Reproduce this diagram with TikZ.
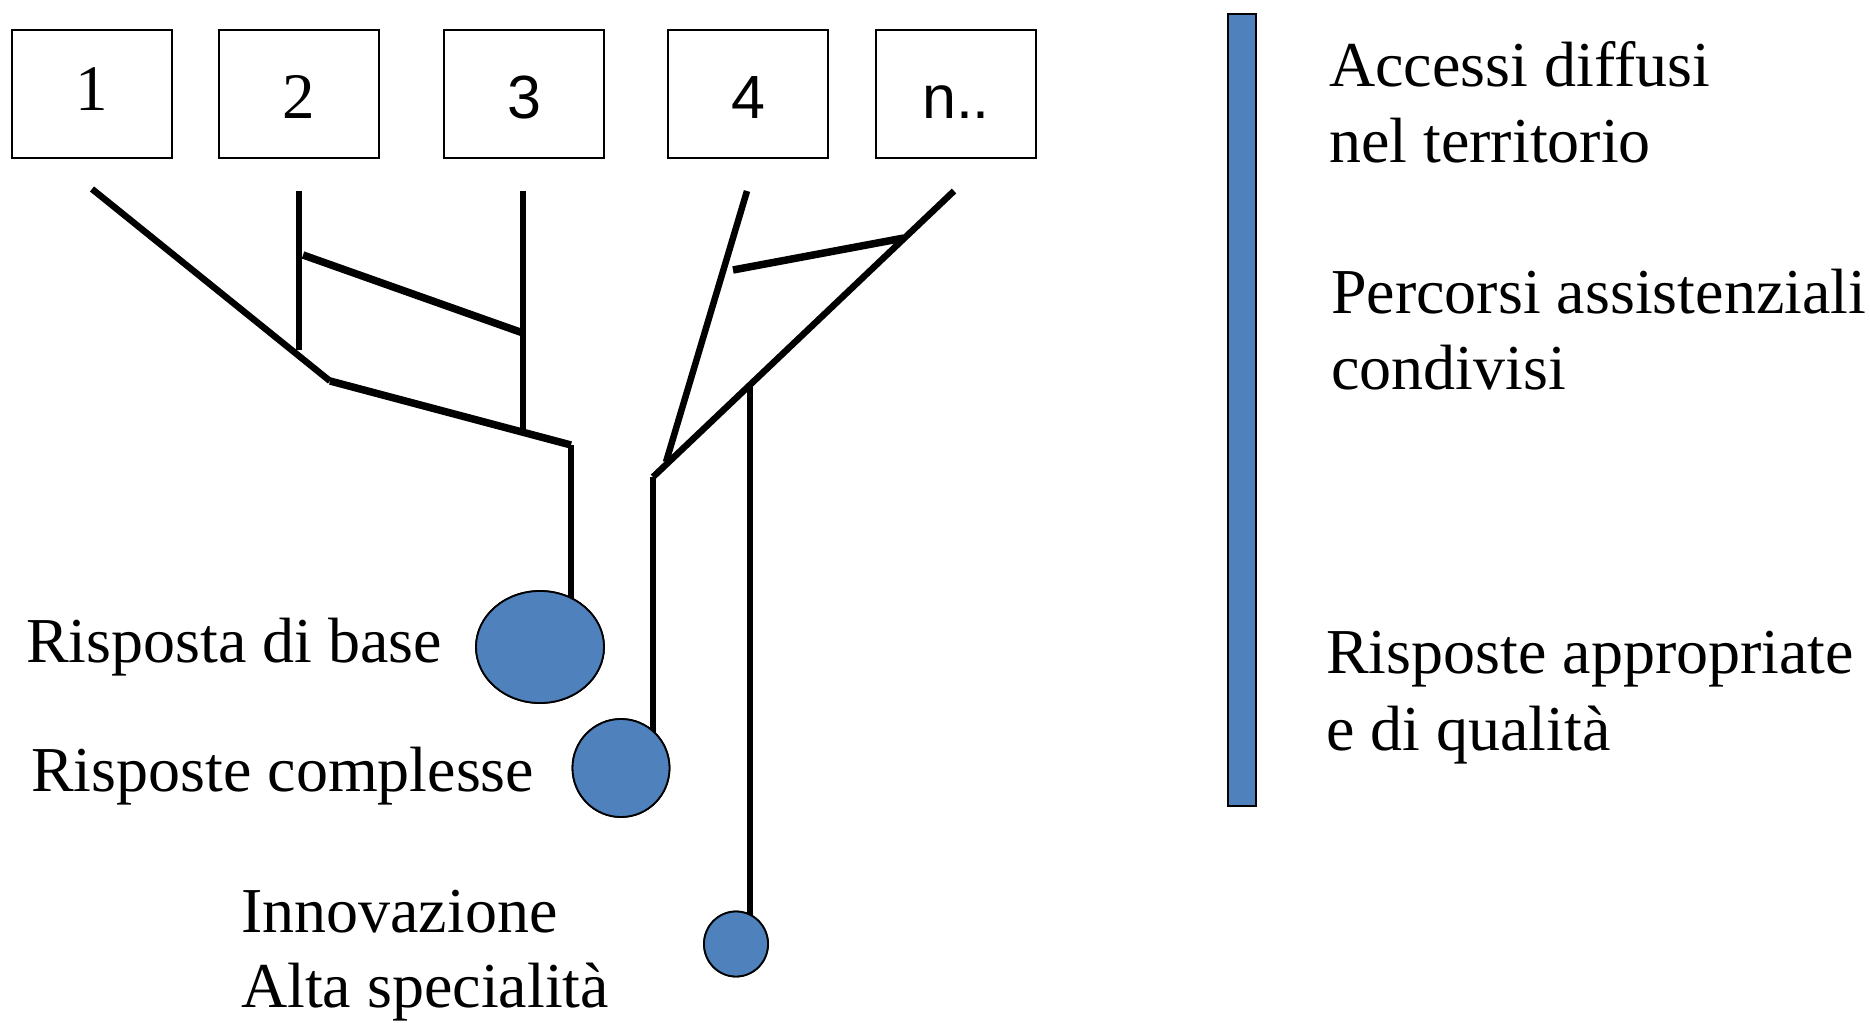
\documentclass[tikz,border=0pt]{standalone}
\usepackage{fontspec}
\setmainfont{Liberation Serif}
\newfontfamily\timesfont{Liberation Serif}
\newfontfamily\arialfont{Liberation Sans}
\usetikzlibrary{shapes.geometric}
\definecolor{offblue}{HTML}{4F81BD}
\begin{document}
\begin{tikzpicture}[x=1pt,y=-1pt,
  numbox/.style={draw=black, line width=1.8pt, minimum width=160pt, minimum height=128pt, inner sep=0pt, text height=50pt, text depth=0pt},
  serifnum/.style={font=\timesfont\fontsize{65}{70}\selectfont},
  sansnum/.style={font=\arialfont\fontsize{61}{70}\selectfont},
  branch/.style={line width=6.5pt},
  crossbar/.style={line width=7.5pt},
  blob/.style={ellipse, draw=black, line width=1.8pt, fill=offblue, inner sep=0pt},
  lbl/.style={anchor=base west, inner sep=0pt, font=\timesfont\fontsize{64}{76}\selectfont}]
\useasboundingbox (0,0) rectangle (1870,1022);
% boxes
\node[numbox, serifnum] (b1) at (92,94) {\raisebox{8pt}{1}};
\node[numbox, serifnum] (b2) at (299,94) {2};
\node[numbox, sansnum] (b3) at (524,94) {3};
\node[numbox, sansnum] (b4) at (748,94) {4};
\node[numbox, sansnum] (b5) at (956,94) {n..};
% coordinates of the tree
\coordinate (a1) at (92,189);
\coordinate (a2) at (330,381);
\coordinate (a3) at (571,445);
\coordinate (p2t) at (299,191);
\coordinate (p2b) at (299,350);
\coordinate (p3t) at (523,191);
\coordinate (p3b) at (523,432);
\coordinate (x1) at (303,255);
\coordinate (x2) at (523,333);
\coordinate (d1) at (747,191);
\coordinate (d2) at (666,462);
\coordinate (n1) at (954,191);
\coordinate (n2) at (653,477);
\coordinate (y1) at (733,270);
\coordinate (y2) at (904,238);
\coordinate (m1) at (750,383);
% ellipses (positions)
\node[blob, minimum width=128pt, minimum height=112pt] (e1) at (540,647) {};
\node[blob, minimum width=97pt, minimum height=98pt] (e2) at (621,768) {};
\node[blob, minimum width=64pt, minimum height=65pt] (e3) at (736,944) {};
% branches
\draw[branch] (a1) -- (a2);
\draw[crossbar] (a2) -- (a3);
\draw[branch] (p2t) -- (p2b);
\draw[branch] (p3t) -- (p3b);
\draw[crossbar] (x1) -- (x2);
\draw[branch] (d1) -- (d2);
\draw[branch] (n1) -- (n2);
\draw[crossbar] (y1) -- (y2);
\draw[branch] (a3) -- (a3 |- e1.center);
\draw[branch] (n2) -- (n2 |- e2.center);
\draw[branch] (m1) -- (m1 |- e3.center);
% ellipses drawn again over the line ends
\node[blob, minimum width=128pt, minimum height=112pt] at (e1) {};
\node[blob, minimum width=97pt, minimum height=98pt] at (e2) {};
\node[blob, minimum width=64pt, minimum height=65pt] at (e3) {};
% bar
\node[draw=black, line width=1.8pt, fill=offblue, minimum width=28pt, minimum height=792pt, inner sep=0pt] (bar) at (1242,410) {};
% labels
\node[lbl] (l1) at (26,662) {Risposta di base};
\node[lbl] (l2) at (31,791) {Risposte complesse};
\node[lbl] (l3a) at (241,932) {Innovazione};
\node[lbl] (l3b) at (241,1007) {Alta specialità};
\node[lbl] (r1a) at (1329,87) {Accessi diffusi};
\node[lbl] (r1b) at (1329,162) {nel territorio};
\node[lbl] (r2a) at (1331,313) {Percorsi assistenziali};
\node[lbl] (r2b) at (1331,389) {condivisi};
\node[lbl] (r3a) at (1326,673) {Risposte appropriate};
\node[lbl] (r3b) at (1326,750) {e di qualità};
\end{tikzpicture}
\end{document}
